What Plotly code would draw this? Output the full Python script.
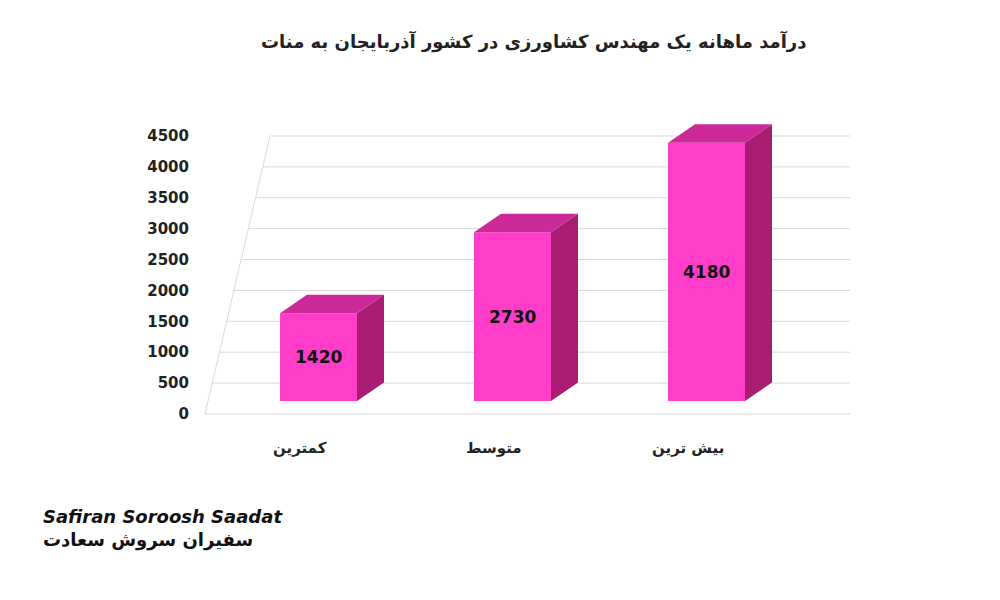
import plotly.graph_objects as go

categories = ["کمترین", "متوسط", "بیش ترین"]
values = [1420, 2730, 4180]
ticks = [0, 500, 1000, 1500, 2000, 2500, 3000, 3500, 4000, 4500]

# pixel-like x positions of bar fronts
bar_left = [280, 474, 668]
bar_w = 77
dx = 27          # depth in x
dy_u = 300       # depth in y (value units)
lift = 210       # front face sits a bit above the axis zero

fig = go.Figure()

# skewed gridlines
for t in ticks:
    x0 = 205 + t / 4500 * 65
    fig.add_trace(go.Scatter(x=[x0, 850], y=[t, t], mode="lines",
                             line=dict(color="#d9d9d9", width=1),
                             hoverinfo="skip", showlegend=False))
fig.add_trace(go.Scatter(x=[205, 270], y=[0, 4500], mode="lines",
                         line=dict(color="#d9d9d9", width=1),
                         hoverinfo="skip", showlegend=False))

for xl, v in zip(bar_left, values):
    xr = xl + bar_w
    b, tp = lift, v + lift
    # front
    fig.add_trace(go.Scatter(x=[xl, xr, xr, xl, xl], y=[b, b, tp, tp, b],
                             fill="toself", fillcolor="#ff3dc8", line=dict(width=0),
                             mode="lines", hoverinfo="skip", showlegend=False))
    # side
    fig.add_trace(go.Scatter(x=[xr, xr + dx, xr + dx, xr, xr],
                             y=[b, b + dy_u, tp + dy_u, tp, b],
                             fill="toself", fillcolor="#a81c72", line=dict(width=0),
                             mode="lines", hoverinfo="skip", showlegend=False))
    # top
    fig.add_trace(go.Scatter(x=[xl, xr, xr + dx, xl + dx, xl],
                             y=[tp, tp, tp + dy_u, tp + dy_u, tp],
                             fill="toself", fillcolor="#cc2a98", line=dict(width=0),
                             mode="lines", hoverinfo="skip", showlegend=False))
    fig.add_annotation(x=(xl + xr) / 2, y=(b + tp) / 2, text=f"<b>{v}</b>",
                       showarrow=False, font=dict(size=17, color="#111"))

for xl, c in zip(bar_left, categories):
    fig.add_annotation(x=xl + 20, y=-550, text=f"<b>{c}</b>", showarrow=False,
                       font=dict(size=15, color="#222"))

fig.add_annotation(x=0.5, y=1.0, xref="paper", yref="paper", yanchor="bottom",
                   text="<b>درآمد ماهانه یک مهندس کشاورزی در کشور آذربایجان به منات</b>",
                   showarrow=False, font=dict(size=18, color="#222"), yshift=16)

fig.add_annotation(x=-0.235, y=-0.205, xref="paper", yref="paper", xanchor="left",
                   text="<b><i>Safiran Soroosh Saadat</i></b><br><b>سفیران سروش سعادت</b>",
                   showarrow=False, align="left", font=dict(size=18, color="#111"))

fig.update_layout(
    width=1000, height=600, plot_bgcolor="white", paper_bgcolor="white",
    margin=dict(l=190, r=140, t=63, b=137),
    font=dict(family="DejaVu Sans"),
    xaxis=dict(range=[198, 868], visible=False),
    yaxis=dict(range=[-923, 5552], tickvals=ticks, showgrid=False, zeroline=False,
               tickfont=dict(size=15, color="#222"), ticklabelstandoff=8),
)
fig.for_each_yaxis(lambda a: a.update(ticktext=[f"<b>{t}</b>" for t in ticks]))

fig.write_html("out.html")
